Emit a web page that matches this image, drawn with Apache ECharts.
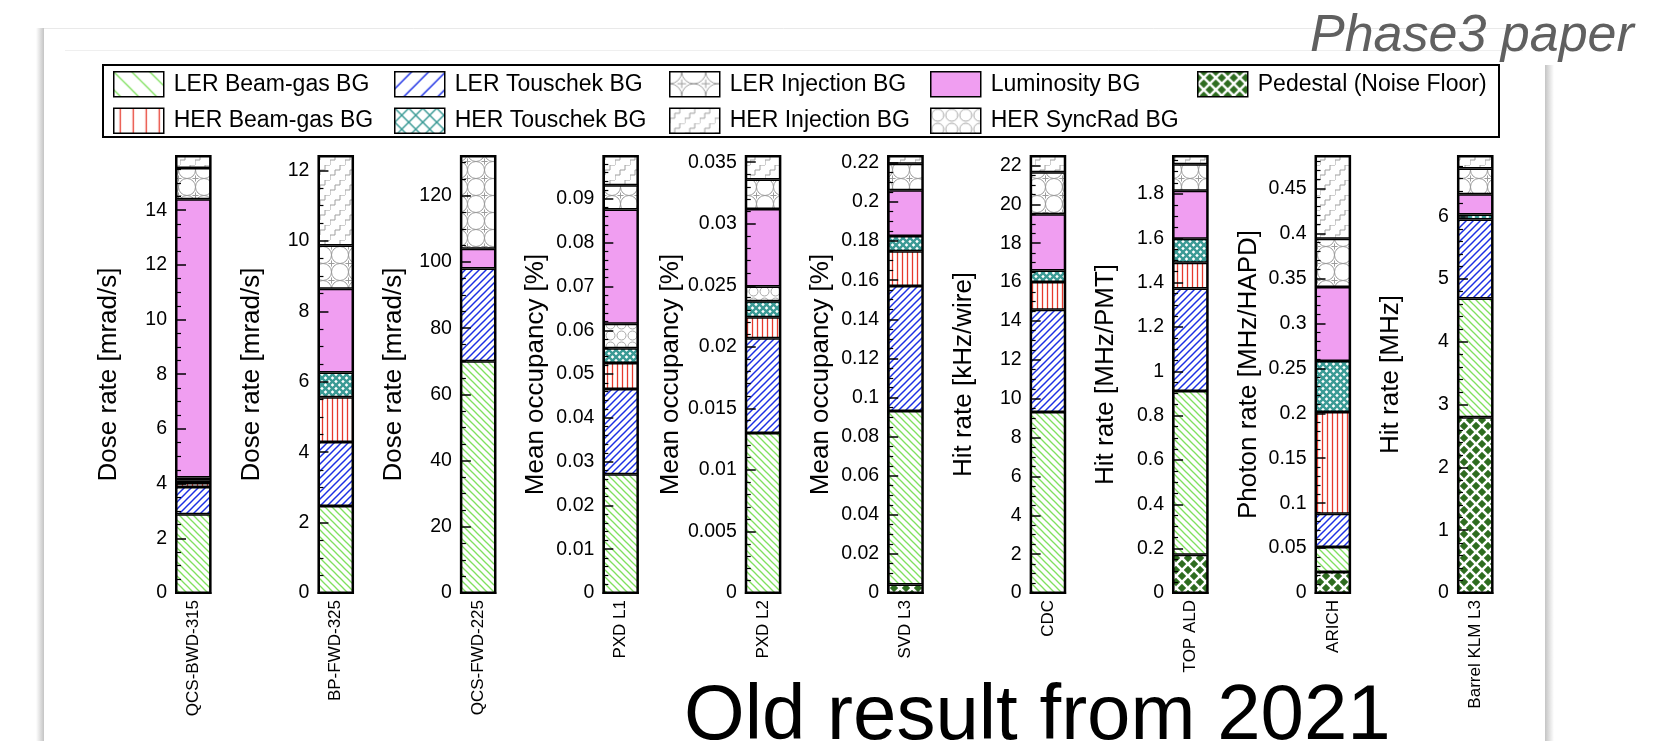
<!DOCTYPE html>
<html>
<head>
<meta charset="utf-8">
<title>Beam background composition per detector</title>
<script src="https://cdn.jsdelivr.net/npm/echarts@6/dist/echarts.min.js"></script>
<style>
  html, body { margin: 0; padding: 0; background: #fff; }
  #chart { width: 1676px; height: 741px; }
</style>
</head>
<body>
<div id="chart"></div>
<script>
// Detectors / sensors, one stacked column each
const detectors = ['QCS-BWD-315', 'BP-FWD-325', 'QCS-FWD-225', 'PXD L1', 'PXD L2',
                   'SVD L3', 'CDC', 'TOP ALD', 'ARICH', 'Barrel KLM L3'];

// Y-axis titles for each detector panel
const axisTitles = ['Dose rate [mrad/s]', 'Dose rate [mrad/s]', 'Dose rate [mrad/s]',
                    'Mean occupancy [%]', 'Mean occupancy [%]', 'Mean occupancy [%]',
                    'Hit rate [kHz/wire]', 'Hit rate [MHz/PMT]', 'Photon rate [MHz/HAPD]',
                    'Hit rate [MHz]'];

// Major tick step and minor subdivisions of every y axis
const tickStep = [2, 2, 20, 0.01, 0.005, 0.02, 2, 0.2, 0.05, 1];
const minorDiv = [4, 4, 4, 5, 5, 4, 4, 4, 5, 5];

// Background components, stacked bottom to top (values per detector)
const pedestal      = [0,    0,    0,  0,      0,      0.0043, 0,    0.173, 0.0234, 2.80];
const lerBeamGas    = [2.88, 2.47, 70, 0.0271, 0.0130, 0.0888, 9.31, 0.738, 0.0278, 1.89];
const lerTouschek   = [1.00, 1.82, 28, 0.0195, 0.0077, 0.0639, 5.27, 0.462, 0.0371, 1.26];
const herBeamGas    = [0.14, 1.27, 0,  0.0059, 0.0017, 0.0178, 1.42, 0.117, 0.1131, 0];
const herTouschek   = [0.10, 0.70, 0,  0.0034, 0.0013, 0.0078, 0.60, 0.108, 0.0568, 0.08];
const herSyncRad    = [0.10, 0,    0,  0.0056, 0.0012, 0,      0,    0,     0,      0];
const luminosity    = [10.18, 2.38, 6, 0.0261, 0.0063, 0.0234, 2.89, 0.216, 0.0823, 0.32];
const lerInjection  = [1.14, 1.23, 28, 0.0055, 0.0024, 0.0136, 2.17, 0.120, 0.0538, 0.41];
const herInjection  = [0.44, 2.54, 0,  0.0067, 0.0019, 0.0039, 0.83, 0.037, 0.0920, 0.20];

// ---- hatch patterns (ROOT-style fill styles) ----
function tile(w, h, draw, bg) {
  const c = document.createElement('canvas');
  c.width = w; c.height = h;
  const g = c.getContext('2d');
  g.fillStyle = bg || '#ffffff';
  g.fillRect(0, 0, w, h);
  draw(g, w, h);
  return { image: c, repeat: 'repeat' };
}
function diag(g, s, dir) {
  for (let k = -s; k <= s; k += s) {
    g.beginPath();
    if (dir > 0) { g.moveTo(k - 1, -1); g.lineTo(k + s + 1, s + 1); }
    else { g.moveTo(k - 1, s + 1); g.lineTo(k + s + 1, -1); }
    g.stroke();
  }
}
function hatchBack(s, color, lw) {            // "\\\" lines
  return tile(s, s, (g) => { g.strokeStyle = color; g.lineWidth = lw; diag(g, s, 1); });
}
function hatchFwd(s, color, lw) {             // "///" lines
  return tile(s, s, (g) => { g.strokeStyle = color; g.lineWidth = lw; diag(g, s, -1); });
}
function hatchVert(s, color, lw) {            // "|||" lines
  return tile(s, s, (g) => {
    g.strokeStyle = color; g.lineWidth = lw;
    g.beginPath(); g.moveTo(s / 2, 0); g.lineTo(s / 2, s); g.stroke();
  });
}
function crossHatch(s, color, lw, bg) {       // "XXX" lines
  return tile(s, s, (g) => {
    g.strokeStyle = color; g.lineWidth = lw; diag(g, s, 1); diag(g, s, -1);
  }, bg);
}
function ringCross(s) {                        // overlapping rings with crosses
  return tile(s, s, (g) => {
    g.strokeStyle = '#9c9c9c'; g.lineWidth = 1;
    const r = s / 2;
    [[0, 0], [s, 0], [0, s], [s, s]].forEach(([cx, cy]) => {
      g.beginPath(); g.arc(cx, cy, r, 0, Math.PI * 2); g.stroke();
    });
    const a = s * 0.18;
    g.beginPath();
    g.moveTo(r, r - a); g.lineTo(r, r + a);
    g.moveTo(r - a, r); g.lineTo(r + a, r);
    g.stroke();
  });
}
function stairs(s) {                           // staircase lines
  return tile(s, s, (g) => {
    g.strokeStyle = '#a0a0a0'; g.lineWidth = 1;
    const t = s / 3;
    g.beginPath();
    g.moveTo(0, s); g.lineTo(0, 2 * t); g.lineTo(t, 2 * t); g.lineTo(t, t);
    g.lineTo(2 * t, t); g.lineTo(2 * t, 0); g.lineTo(s, 0);
    g.stroke();
  });
}
function rings(s) {                            // small rings
  return tile(s, s, (g) => {
    g.strokeStyle = '#a8a8a8'; g.lineWidth = 1;
    g.beginPath(); g.arc(s / 2, s / 2, s / 2 - 1, 0, Math.PI * 2); g.stroke();
  });
}

const GREEN = '#80e05f', BLUE = '#1d30e4', RED = '#e6392c', TEAL = '#3a9a95',
      PINK = '#f09ef1', DKGREEN = '#2e6c20';

const components = [
  { name: 'Pedestal (Noise Floor)', values: pedestal,
    fill: crossHatch(12, '#ffffff', 2.6, DKGREEN), key: crossHatch(12, '#ffffff', 2.4, DKGREEN) },
  { name: 'LER Beam-gas BG', values: lerBeamGas,
    fill: hatchBack(7, GREEN, 1.3), key: hatchBack(18, GREEN, 1.3) },
  { name: 'LER Touschek BG', values: lerTouschek,
    fill: hatchFwd(7, BLUE, 1.5), key: hatchFwd(17, BLUE, 1.5) },
  { name: 'HER Beam-gas BG', values: herBeamGas,
    fill: hatchVert(5, RED, 1.3), key: hatchVert(13, RED, 1.3) },
  { name: 'HER Touschek BG', values: herTouschek,
    fill: crossHatch(7, TEAL, 2.4), key: crossHatch(14, TEAL, 1.5) },
  { name: 'HER SyncRad BG', values: herSyncRad,
    fill: rings(11), key: rings(14) },
  { name: 'Luminosity BG', values: luminosity,
    fill: PINK, key: PINK },
  { name: 'LER Injection BG', values: lerInjection,
    fill: ringCross(17), key: ringCross(24) },
  { name: 'HER Injection BG', values: herInjection,
    fill: stairs(15), key: stairs(15) }
];

// ---- layout of the ten panels ----
const FONT = '"Liberation Sans", Arial, Helvetica, sans-serif';
const panelLeft = 176, panelPitch = 142.44, panelWidth = 34.6, panelTop = 156, panelHeight = 437;

function tickText(step) {
  return function (v) {
    const r = v / step;
    if (Math.abs(r - Math.round(r)) > 1e-6) return '';
    return String(parseFloat(v.toFixed(6)));
  };
}

const grids = [], xAxes = [], yAxes = [], series = [];
detectors.forEach((det, i) => {
  grids.push({
    left: panelLeft + i * panelPitch, top: panelTop, width: panelWidth, height: panelHeight,
    show: true, borderColor: '#000', borderWidth: 2, backgroundColor: 'transparent'
  });
  xAxes.push({
    type: 'category', gridIndex: i, data: [det], boundaryGap: true,
    axisLine: { show: true, lineStyle: { color: '#000', width: 2 } },
    axisTick: { show: false },
    axisLabel: { rotate: 90, fontSize: 17, color: '#000', margin: 7, fontFamily: FONT, interval: 0 },
    z: 10
  });
  yAxes.push({
    type: 'value', gridIndex: i, min: 0, max: 'dataMax', interval: tickStep[i],
    name: axisTitles[i], nameLocation: 'middle', nameGap: 54,
    nameTextStyle: { fontSize: 26, color: '#000', fontFamily: FONT },
    axisLine: { show: true, lineStyle: { color: '#000', width: 2 } },
    axisTick: { show: true, inside: true, length: 10, lineStyle: { color: '#000', width: 1.5 } },
    minorTick: { show: true, splitNumber: minorDiv[i], length: 5, lineStyle: { color: '#000', width: 1.2 } },
    axisLabel: { fontSize: 19.5, color: '#000', margin: 9, fontFamily: FONT,
                 formatter: tickText(tickStep[i]) },
    splitLine: { show: false },
    z: 10
  });
  components.forEach((c) => {
    series.push({
      type: 'bar', name: c.name, xAxisIndex: i, yAxisIndex: i, stack: 'det' + i,
      data: [c.values[i] === 0 ? '-' : c.values[i]],
      barWidth: '100%', barCategoryGap: 0,
      itemStyle: { color: c.fill, borderColor: '#000', borderWidth: 1.5 },
      emphasis: { disabled: true }, silent: true
    });
  });
});

// ---- legend: five columns inside one framed box ----
const byName = {};
components.forEach((c) => { byName[c.name] = c; });
const legendColumns = [
  { left: 113, names: ['LER Beam-gas BG', 'HER Beam-gas BG'] },
  { left: 394, names: ['LER Touschek BG', 'HER Touschek BG'] },
  { left: 669, names: ['LER Injection BG', 'HER Injection BG'] },
  { left: 930, names: ['Luminosity BG', 'HER SyncRad BG'] },
  { left: 1197, names: ['Pedestal (Noise Floor)'] }
];
const legends = legendColumns.map((col) => ({
  orient: 'vertical', left: col.left, top: 71, padding: 0,
  itemWidth: 50, itemHeight: 25, itemGap: 10, icon: 'rect', selectedMode: false,
  itemStyle: { borderColor: '#000', borderWidth: 1.5 },
  textStyle: { fontSize: 23, color: '#000', fontFamily: FONT, padding: [0, 0, 0, 5] },
  data: col.names.map((n) => ({ name: n, icon: 'rect', itemStyle: { color: byName[n].key } }))
}));

const chart = echarts.init(document.getElementById('chart'), null, { renderer: 'canvas' });
chart.setOption({
  backgroundColor: '#ffffff',
  animation: false,
  textStyle: { fontFamily: FONT },
  grid: grids,
  xAxis: xAxes,
  yAxis: yAxes,
  legend: legends,
  series: series,
  graphic: [
    // page frame and its soft edge shading
    { type: 'rect', z: -10, shape: { x: 36, y: 28, width: 8, height: 720 },
      style: { fill: new echarts.graphic.LinearGradient(0, 0, 1, 0,
        [{ offset: 0, color: '#ffffff' }, { offset: 1, color: '#c4c4c4' }]) } },
    { type: 'rect', z: -10, shape: { x: 1545, y: 65, width: 9, height: 690 },
      style: { fill: new echarts.graphic.LinearGradient(0, 0, 1, 0,
        [{ offset: 0, color: '#c4c4c4' }, { offset: 1, color: '#ffffff' }]) } },
    { type: 'line', z: -10, shape: { x1: 44, y1: 28.5, x2: 1523, y2: 28.5 },
      style: { stroke: '#e9e9e9', lineWidth: 1 } },
    { type: 'line', z: -10, shape: { x1: 65, y1: 50.5, x2: 1523, y2: 50.5 },
      style: { stroke: '#efefef', lineWidth: 1 } },
    // legend frame
    { type: 'rect', z: 5, shape: { x: 103, y: 65, width: 1396, height: 72 },
      style: { fill: 'transparent', stroke: '#000', lineWidth: 2 } },
    // annotations
    { type: 'text', z: 20, x: 1310, y: 37,
      style: { text: 'Phase3 paper', font: 'italic 52px ' + FONT, fill: '#606060',
               textAlign: 'left', textVerticalAlign: 'middle', verticalAlign: 'middle' } },
    { type: 'text', z: 20, x: 684, y: 717,
      style: { text: 'Old result from 2021', font: '78px ' + FONT, fill: '#000',
               textAlign: 'left', textVerticalAlign: 'middle', verticalAlign: 'middle' } }
  ]
});
</script>
</body>
</html>
